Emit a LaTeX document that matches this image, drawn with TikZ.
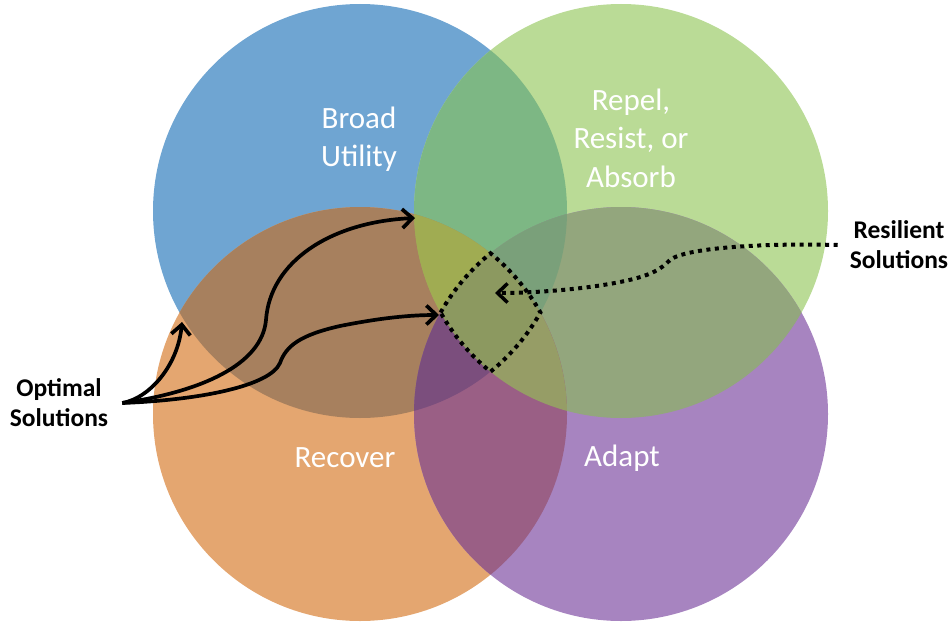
\documentclass[tikz,border=0pt]{standalone}
\usepackage{fontspec}
\setmainfont{Carlito}
\usetikzlibrary{arrows.meta}
\definecolor{cB}{RGB}{111,165,210}
\definecolor{cG}{RGB}{186,219,150}
\definecolor{cO}{RGB}{228,166,112}
\definecolor{cP}{RGB}{167,132,192}
\definecolor{cBG}{RGB}{125,183,132}
\definecolor{cBO}{RGB}{167,128,94}
\definecolor{cGP}{RGB}{147,166,125}
\definecolor{cOP}{RGB}{154,95,133}
\definecolor{cBP}{RGB}{120,110,150}
\definecolor{cGO}{RGB}{160,165,95}
\definecolor{cBGO}{RGB}{160,172,82}
\definecolor{cBGP}{RGB}{122,160,122}
\definecolor{cBOP}{RGB}{123,78,125}
\definecolor{cGOP}{RGB}{150,157,102}
\definecolor{cBGOP}{RGB}{140,153,96}
\begin{document}
\begin{tikzpicture}[x=1pt,y=-1pt,
  lbl/.style={text=white,font=\fontsize{31}{38.5}\selectfont,align=center,inner sep=0pt},
  side/.style={text=black,font=\bfseries\fontsize{25.5}{30}\selectfont,align=center,inner ysep=0pt},
  optarrow/.style={line width=3.7pt,-{Straight Barb[length=10pt,width=19pt]}},
  resarrow/.style={line width=4pt,dash pattern=on 4pt off 4.5pt,-{Straight Barb[length=10pt,width=19pt,line width=3.5pt]}},
  dotline/.style={line width=4pt,dash pattern=on 4pt off 4.5pt}
]
\useasboundingbox (0,0) rectangle (952,623);
\def\R{207}
\coordinate (B) at (360,211);
\coordinate (G) at (621,211);
\coordinate (O) at (360,414);
\coordinate (P) at (621,414);
% single circles
\fill[cB] (B) circle[radius=\R];
\fill[cG] (G) circle[radius=\R];
\fill[cO] (O) circle[radius=\R];
\fill[cP] (P) circle[radius=\R];
% pairwise overlaps
\begin{scope}\clip (B) circle[radius=\R]; \fill[cBG] (G) circle[radius=\R];\end{scope}
\begin{scope}\clip (B) circle[radius=\R]; \fill[cBO] (O) circle[radius=\R];\end{scope}
\begin{scope}\clip (B) circle[radius=\R]; \fill[cBP] (P) circle[radius=\R];\end{scope}
\begin{scope}\clip (G) circle[radius=\R]; \fill[cGO] (O) circle[radius=\R];\end{scope}
\begin{scope}\clip (G) circle[radius=\R]; \fill[cGP] (P) circle[radius=\R];\end{scope}
\begin{scope}\clip (O) circle[radius=\R]; \fill[cOP] (P) circle[radius=\R];\end{scope}
% triple overlaps
\begin{scope}\clip (B) circle[radius=\R]; \clip (G) circle[radius=\R]; \fill[cBGO] (O) circle[radius=\R];\end{scope}
\begin{scope}\clip (B) circle[radius=\R]; \clip (G) circle[radius=\R]; \fill[cBGP] (P) circle[radius=\R];\end{scope}
\begin{scope}\clip (B) circle[radius=\R]; \clip (O) circle[radius=\R]; \fill[cBOP] (P) circle[radius=\R];\end{scope}
\begin{scope}\clip (G) circle[radius=\R]; \clip (O) circle[radius=\R]; \fill[cGOP] (P) circle[radius=\R];\end{scope}
% quadruple
\begin{scope}\clip (B) circle[radius=\R]; \clip (G) circle[radius=\R]; \clip (O) circle[radius=\R]; \fill[cBGOP] (P) circle[radius=\R];\end{scope}

% circle labels
\node[lbl] (broad) at (359,139) {Broad\\Utility};
\node[lbl] (repel) at (631,138) {Repel,\\Resist, or\\Absorb};
\node[lbl] (recover) at (345,458) {Recover};
\node[lbl] (adapt) at (622,458) {Adapt};

% side labels
\node[side,inner xsep=14pt] (opt) at (59,403) {Optimal\\Solutions};
\node[side,inner xsep=12pt] (res) at (899,245) {Resilient\\Solutions};

% targets
\coordinate (t1) at (182,322);
\coordinate (t2) at (415,218);
\coordinate (t3) at (439,315);
\coordinate (t4) at (495,293);
\coordinate (L4) at (440.6,312.5);

% optimal arrows
\draw[optarrow] (opt.east) .. controls (150,398) and (178,365) .. (t1);
\draw[optarrow] (opt.east) .. controls (200,392) and (262,365) .. (266,320)
   .. controls (270,262) and (330,222) .. (t2);
\draw[optarrow] (opt.east) .. controls (200,400) and (270,386) .. (280,363)
   .. controls (286,346) and (300,335) .. (340,326)
   .. controls (380,318) and (410,315) .. (t3);

% dotted quadruple-overlap outline
\draw[dotline] (L4) arc[start angle=209.36,end angle=230.92,radius=\R]
   arc[start angle=-50.92,end angle=-29.36,radius=\R]
   arc[start angle=29.36,end angle=50.92,radius=\R]
   arc[start angle=129.08,end angle=150.64,radius=\R] -- cycle;

% resilient arrow
\draw[resarrow] (res.west) .. controls (760,243) and (685,248) .. (670,260)
   .. controls (660,270) and (650,276) .. (620,282)
   .. controls (580,290) and (530,293) .. (t4);
\end{tikzpicture}
\end{document}
